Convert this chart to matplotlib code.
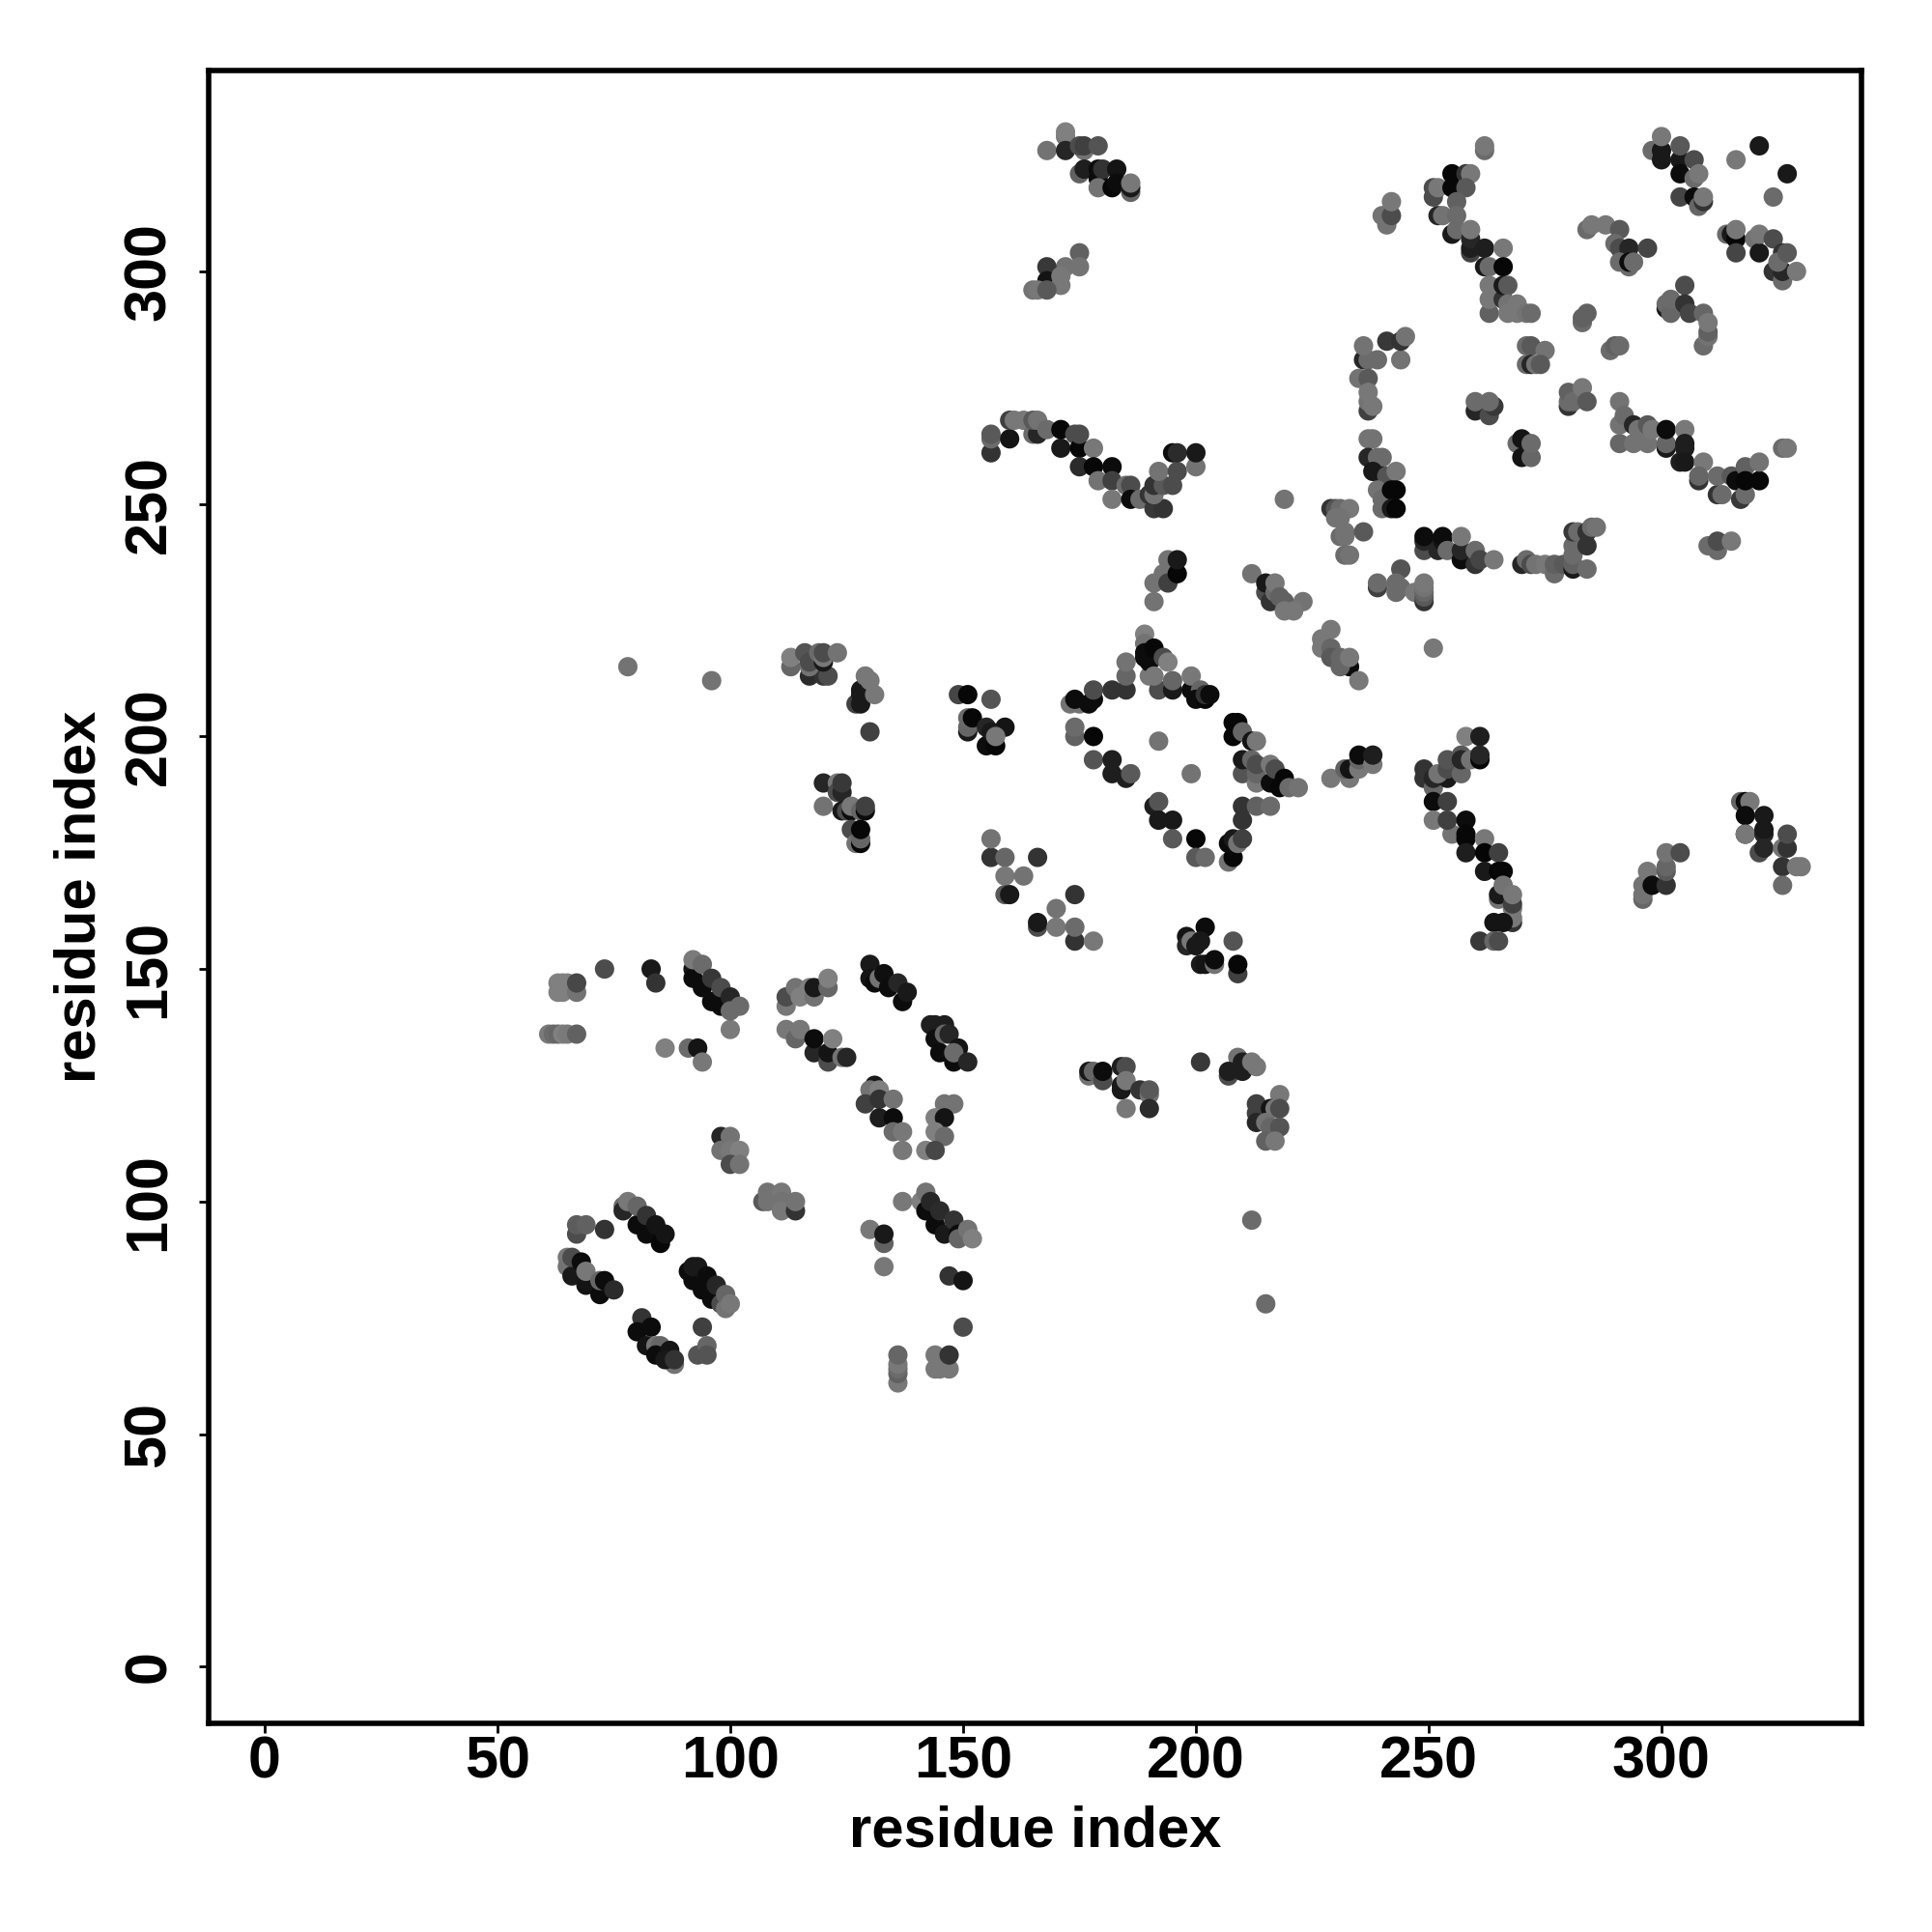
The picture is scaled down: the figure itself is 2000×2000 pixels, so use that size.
import matplotlib
matplotlib.use("Agg")
import matplotlib.pyplot as plt

# contacts: (residue i, residue j, grey level)
low_left = [
    (63,147,.5),(64,147,.5),(65,147,.5),(63,145,.5),(64,145,.5),(67,145,.45),(67,147,.28),
    (61,136,.48),(62,136,.42),(63,136,.4),(64,136,.5),(65,136,.48),(67,136,.38),
    (73,150,.3),(83,150,.1),(84,147,.2),(86,133,.5),(91,133,.42),(93,133,.08),(94,130,.47),(100,137,.48),
    (67,93,.3),(67,95,.36),(69,95,.38),(73,94,.2),
    (65,88,.47),(65,86,.45),(66,84,.1),(66,88,.3),(68,87,.05),(69,82,.08),(69,85,.47),(72,80,.05),
    (72,83,.4),(73,83,.05),(75,81,.17),
    (77,99,.42),(77,98,.15),(78,100,.47),(80,95,.05),(80,99,.4),(82,93,.05),(82,97,.2),(85,91,.03),
    (84,95,.08),(86,93,.08),
    (91,85,.05),(92,83,.05),(92,86,.1),(93,86,.1),(94,81,.05),(95,84,.05),(96,79,.05),(97,82,.15),
    (98,78,.3),(99,77,.45),(99,80,.4),(100,78,.47),
    (81,75,.2),(80,72,.05),(83,73,.05),(82,69,.08),(84,69,.45),(85,69,.4),(84,67,.05),(88,65,.45),
    (87,68,.08),(86,66,.1),(88,66,.2),
    (94,73,.25),(93,67,.33),(95,69,.4),(95,67,.33),
]
low_mid = [
    (92,150,.08),(92,148,.05),(94,146,.05),(96,143,.05),(98,142,.05),(92,152,.48),(94,151,.42),
    (96,148,.22),(98,146,.3),(100,144,.15),(100,141,.42),(102,142,.42),
    (112,142,.47),(112,144,.3),(114,146,.45),(115,144,.5),(117,146,.5),(118,144,.45),(118,146,.1),
    (121,146,.4),(121,148,.5),
    (112,137,.47),(114,135,.4),(115,137,.47),(118,132,.15),(118,135,.05),(121,130,.3),(121,132,.08),
    (122,135,.5),(124,131,.45),(125,131,.15),
    (130,151,.1),(130,148,.08),(131,147,.05),(132,148,.45),(133,149,.06),(134,146,.05),(136,147,.15),
    (137,143,.05),(138,145,.1),
    (143,138,.12),(144,138,.12),(146,138,.12),(144,135,.06),(146,136,.4),(147,136,.15),(145,132,.05),
    (149,133,.08),(148,130,.05),(148,132,.42),(151,130,.15),
    (131,125,.1),(130,124,.45),(132,124,.5),(129,121,.25),(132,122,.2),(135,122,.45),(132,118,.12),
    (135,118,.05),(135,115,.42),(137,115,.47),(137,111,.47),
    (146,121,.45),(148,121,.45),(144,118,.5),(146,118,.08),(144,115,.5),(146,114,.42),(142,111,.5),(144,111,.28),
    (98,114,.15),(100,114,.45),(98,111,.45),(100,111,.47),(102,111,.5),(100,108,.3),(102,108,.45),
    (107,100,.35),(108,102,.45),(108,100,.45),(111,102,.47),(111,100,.45),(111,98,.47),(114,98,.2),(114,100,.45),
    (130,94,.47),(133,91,.38),(133,93,.1),(133,86,.47),
    (137,100,.47),(141,100,.5),(142,102,.45),(142,98,.05),(143,100,.15),(144,95,.05),(145,98,.17),
    (146,93,.1),(148,96,.2),(149,93,.05),(149,92,.4),(151,94,.45),(152,92,.5),
    (147,84,.2),(150,83,.08),(150,73,.3),
    (136,61,.47),(136,63,.38),(136,64,.42),(136,65,.47),(136,67,.4),
    (144,64,.47),(145,64,.47),(147,64,.47),(144,67,.47),(147,67,.2),
]
centre_left = [
    (78,215,.45),(96,212,.45),
    (113,215,.4),(113,217,.5),(117,213,.17),(120,213,.2),(121,213,.3),(116,218,.33),(117,215,.45),
    (117,216,.3),(120,216,.1),(119,218,.42),(120,217,.47),(120,218,.3),(123,218,.45),
    (127,207,.25),(128,207,.1),(128,209,.1),(128,210,.1),(129,213,.47),(130,212,.47),(131,209,.47),(130,201,.25),
    (120,190,.15),(123,190,.47),(123,188,.3),(124,188,.15),(124,190,.22),(120,185,.45),(124,184,.1),
    (125,184,.3),(126,184,.05),(126,185,.47),(128,184,.4),(129,184,.05),(129,185,.25),
    (126,180,.3),(127,177,.45),(128,177,.03),(128,178,.4),(128,180,.03),
    (149,209,.27),(151,209,.03),(156,208,.33),(151,201,.1),(151,202,.4),(151,204,.42),(152,204,.03),
    (155,198,.05),(157,198,.03),(155,202,.15),(159,202,.08),(156,201,.1),(157,200,.47),
    (156,174,.2),(156,178,.45),(159,174,.4),(166,174,.2),(159,170,.47),(163,170,.45),(159,166,.35),(160,166,.1),
    (174,166,.2),(170,163,.45),(166,159,.3),(166,160,.1),(170,159,.47),(174,156,.2),(174,159,.42),(178,156,.47),
]
diamond = [
    (173,207,.45),(175,207,.45),(174,208,.05),(177,207,.05),(178,208,.05),(178,210,.3),(182,210,.2),
    (185,210,.2),(185,213,.4),(185,216,.45),
    (174,200,.38),(174,202,.42),(178,200,.03),(178,195,.33),(182,192,.12),(182,195,.12),(185,191,.12),(186,192,.35),
    (189,222,.5),(189,220,.45),(189,217,.05),(189,218,.05),(190,213,.47),(190,216,.05),(191,219,.03),
    (192,210,.3),(191,213,.47),(195,210,.1),(193,217,.3),(195,212,.4),(194,216,.5),
    (199,210,.05),(199,213,.47),(201,210,.4),(200,208,.05),(202,208,.03),(202,209,.2),(203,209,.05),
    (191,185,.12),(192,186,.33),(192,182,.1),(195,182,.1),(195,178,.35),(200,178,.03),(200,174,.35),(202,174,.42),
    (192,199,.45),(199,192,.45),
    (207,173,.45),(208,174,.03),(207,177,.05),(208,178,.1),(209,177,.45),(210,178,.25),
    (210,182,.2),(210,185,.2),(213,185,.38),(216,185,.42),
    (208,203,.03),(209,203,.03),(208,200,.03),(210,201,.4),(212,199,.08),(213,199,.47),
    (210,192,.33),(210,195,.1),(212,195,.4),(213,190,.47),(213,192,.4),(213,194,.3),
    (216,190,.05),(216,194,.47),(217,193,.3),(218,189,.03),(219,191,.03),(220,189,.42),(222,189,.45),
    (191,229,.45),(191,233,.45),(193,235,.45),(194,233,.25),(194,238,.45),(196,235,.03),(196,238,.1),
    (198,157,.08),(198,155,.15),(199,156,.47),(200,155,.1),(202,159,.05),(201,156,.1),(208,156,.33),
    (201,151,.1),(202,151,.08),(204,151,.45),(204,152,.05),(209,149,.25),(209,151,.03),
    (177,127,.45),(177,128,.1),(178,128,.4),(180,126,.3),(180,128,.05),(184,124,.1),(184,125,.1),(184,129,.12),
    (185,129,.3),(185,126,.47),(188,124,.2),(190,123,.45),(190,124,.35),(185,120,.47),(190,120,.17),
    (201,130,.22),(209,131,.45),(207,127,.3),(207,128,.12),(210,130,.12),(210,128,.12),(212,130,.47),(213,129,.47),
    (218,123,.47),(213,121,.25),(213,119,.25),(213,117,.15),(216,120,.08),(217,120,.47),(218,120,.3),
    (215,117,.45),(216,116,.4),(218,116,.33),(215,113,.38),(217,113,.47),
    (212,96,.42),(215,78,.42),
]
band_mid = [
    (229,223,.47),(227,221,.47),(227,219,.47),(229,219,.4),(229,217,.35),(231,217,.4),(233,215,.05),
    (231,215,.4),(233,217,.47),(235,212,.47),(251,219,.47),
    (229,191,.47),(233,191,.47),(232,193,.38),(233,193,.08),(235,193,.47),(235,195,.4),(235,196,.05),
    (238,194,.47),(238,196,.12),
    (212,235,.45),(215,231,.3),(215,233,.1),(216,229,.2),(217,231,.42),(217,233,.47),(218,230,.38),
    (219,229,.38),(223,229,.45),(219,227,.47),(221,227,.47),
    (258,200,.5),(261,200,.12),(249,191,.2),(249,193,.2),(251,189,.4),(251,191,.15),(254,191,.1),(252,192,.45),
    (254,193,.3),(254,195,.33),(257,196,.35),(257,192,.4),(257,195,.15),(259,195,.45),(261,195,.03),(261,196,.15),
    (251,186,.05),(254,186,.25),(251,182,.47),(255,179,.45),(254,182,.25),(258,182,.05),(258,178,.03),
    (258,179,.03),(262,178,.47),(258,175,.12),(262,175,.02),(265,175,.25),(262,171,.1),(265,171,.02),(266,171,.03),
    (265,165,.45),(265,166,.1),(266,168,.45),(268,160,.2),(268,161,.47),(268,163,.47),(268,164,.25),(268,166,.47),
    (264,160,.08),(266,160,.08),(261,156,.22),(264,156,.4),(265,156,.3),
    (296,165,.4),(296,166,.45),(296,168,.45),(297,171,.47),(298,168,.05),(301,168,.2),(301,171,.35),(301,172,.4),
    (301,175,.45),(304,175,.3),
    (317,186,.4),(318,186,.05),(319,186,.47),(318,179,.05),(318,183,.05),(318,179,.47),(322,183,.1),(322,179,.15),
    (322,180,.1),(321,175,.3),(322,176,.15),(326,176,.45),(327,176,.2),(327,179,.3),(326,172,.2),
    (329,172,.47),(330,172,.47),(326,168,.42),
]
upper_left = [
    (172,329,.47),(172,330,.5),(168,326,.45),(172,326,.15),(176,326,.45),(175,327,.3),(176,327,.25),(179,327,.33),
    (175,321,.38),(176,322,.12),(179,320,.05),(179,322,.05),(180,322,.2),(183,322,.08),(179,318,.45),
    (182,318,.03),(183,319,.05),(186,317,.4),(186,318,.1),(186,319,.47),
    (175,304,.38),(175,301,.45),(172,301,.45),(168,301,.22),(168,298,.08),(171,297,.47),(171,299,.47),
    (165,296,.45),(166,296,.47),(168,296,.35),
    (156,261,.2),(156,264,.42),(156,265,.35),(160,264,.08),(160,268,.25),(161,268,.47),(163,268,.47),
    (165,265,.42),(166,265,.15),(165,268,.35),(166,268,.45),(168,266,.42),(171,262,.1),(171,266,.03),
    (174,265,.3),(175,262,.03),(175,265,.3),(178,262,.47),(175,258,.17),(178,258,.03),(179,255,.45),
    (182,258,.05),(182,255,.25),(182,251,.47),(185,254,.42),(186,254,.3),(186,251,.05),
    (188,251,.42),(191,249,.22),(193,249,.2),(190,252,.2),(191,252,.45),(191,254,.2),(193,254,.35),(195,254,.3),
    (192,257,.45),(196,257,.3),(195,261,.05),(196,261,.17),(200,258,.45),(200,261,.1),
    (240,312,.45),(241,310,.45),(242,312,.3),(242,315,.47),
    (236,281,.15),(237,281,.42),(239,281,.42),(236,284,.45),(241,285,.22),(244,281,.45),(244,285,.2),(245,286,.45),
    (235,277,.45),(237,277,.35),(237,270,.25),(237,272,.45),(237,274,.47),(238,271,.47),
    (237,264,.45),(238,264,.45),(237,260,.15),(239,260,.42),(240,260,.42),(238,257,.1),(240,256,.1),(241,256,.33),
    (243,257,.47),(239,253,.45),(240,251,.42),(242,253,.03),(243,253,.03),(240,249,.42),(242,249,.1),(243,249,.03),
    (219,251,.45),
    (229,249,.2),(230,249,.33),(231,249,.42),(233,249,.47),(230,247,.45),(231,247,.45),(231,243,.42),
    (232,243,.45),(232,244,.45),(236,244,.35),(232,239,.42),(233,239,.45),
]
upper_right = [
    (262,326,.42),(262,327,.47),
    (251,316,.3),(251,318,.3),(252,318,.47),(255,318,.03),(255,321,.03),(258,321,.2),(259,321,.47),(258,318,.35),
    (252,312,.15),(253,312,.45),(256,315,.38),(256,312,.42),(255,308,.1),(256,309,.42),(259,304,.25),(259,305,.12),
    (259,307,.15),(259,309,.47),(262,305,.12),(266,305,.47),(262,301,.1),(263,301,.42),(266,301,.03),
    (263,291,.38),(263,294,.47),(263,297,.47),(266,294,.2),(266,297,.1),(267,297,.35),(267,293,.45),(269,293,.47),
    (267,291,.47),(269,291,.47),(271,291,.45),(272,291,.42),
    (284,309,.42),(285,310,.47),(288,310,.47),(291,309,.35),(290,306,.42),(291,305,.3),(293,305,.15),(297,305,.27),
    (291,302,.42),(293,301,.42),(293,302,.05),(294,302,.42),
    (298,326,.42),(300,324,.1),(300,326,.1),(300,329,.47),(304,324,.1),(304,327,.35),(304,321,.05),(307,324,.3),
    (307,320,.42),(308,321,.47),(304,316,.27),(307,316,.05),(308,314,.4),(309,315,.2),(309,316,.47),
    (316,324,.47),(321,327,.1),(327,321,.1),(324,316,.42),
    (314,308,.42),(315,308,.1),(316,307,.03),(316,309,.47),(316,304,.27),(320,307,.45),(321,304,.1),(321,308,.47),
    (324,307,.3),(324,300,.2),(326,298,.42),(326,300,.15),(326,304,.2),(325,302,.42),(327,304,.35),(329,300,.47),
    (305,297,.3),(301,292,.1),(301,293,.42),(302,291,.4),(302,294,.42),(305,293,.2),(306,291,.27),
    (309,284,.42),(309,291,.4),(310,286,.45),(310,287,.38),(310,289,.47),
    (283,289,.42),(283,290,.38),(284,291,.38),(289,283,.42),(290,284,.38),(291,284,.42),
    (271,284,.42),(272,284,.35),(275,283,.45),(271,280,.42),(272,280,.15),(273,280,.45),(274,280,.35),
    (280,271,.2),(280,272,.42),(280,274,.38),(281,272,.42),(283,275,.47),(284,272,.35),
    (260,270,.15),(260,272,.42),(263,269,.3),(264,271,.22),(263,272,.42),
    (269,263,.42),(270,260,.08),(270,264,.08),(272,260,.4),(272,263,.42),
    (291,263,.4),(291,267,.45),(291,272,.45),(292,269,.42),(294,263,.45),(294,267,.15),(295,266,.45),(297,263,.45),
    (297,267,.35),(298,266,.47),(301,262,.1),(301,263,.4),(301,266,.05),(305,266,.47),(305,262,.12),(305,263,.12),
    (304,259,.12),(305,259,.1),(309,259,.47),(308,255,.2),(308,256,.4),(312,252,.2),(313,252,.42),(312,256,.42),
    (315,256,.35),(316,255,.05),(317,251,.22),(318,252,.42),(318,258,.38),(318,255,.03),(321,255,.03),(321,259,.45),
    (310,241,.42),(312,240,.42),(312,242,.3),(315,242,.47),(326,262,.42),(327,262,.47),
    (249,240,.3),(249,242,.15),(249,243,.05),(252,240,.15),(253,242,.08),(253,243,.05),(254,240,.42),
    (257,238,.05),(257,240,.15),(257,243,.47),(260,237,.2),(260,240,.42),(261,238,.27),(264,238,.47),
    (270,237,.15),(271,238,.42),(272,237,.3),(273,237,.45),(275,237,.47),(277,235,.42),(277,237,.38),(279,237,.35),
    (281,236,.1),(281,237,.38),(281,239,.42),(281,241,.42),(284,236,.42),(281,244,.22),(282,244,.42),
    (284,241,.2),(284,244,.2),(285,245,.42),(286,245,.45),
    (244,236,.33),(239,232,.25),(239,233,.42),(243,231,.42),(243,233,.42),(244,232,.42),(247,231,.47),
    (249,229,.2),(249,230,.35),(249,231,.4),(249,232,.45),(249,233,.47),
]

tick_values = [0, 50, 100, 150, 200, 250, 300]
axis_label = "residue index"

plt.rcParams['font.family'] = ['Liberation Sans', 'DejaVu Sans']

fig = plt.figure(figsize=(10, 10), dpi=200)
ax = fig.add_axes([216/2000, 1-1784/2000, (1927-216)/2000, (1784-73)/2000])

contacts = low_left + low_mid + centre_left + diamond + band_mid + upper_left + upper_right
ax.scatter([c[0] for c in contacts], [c[1] for c in contacts], c=[c[2] for c in contacts],
           cmap='gray', vmin=0, vmax=1, s=52, linewidths=0, clip_on=True)

ax.set_xlim(-12.03, 342.95)
ax.set_ylim(-12.2, 343.2)
ax.set_xticks(tick_values)
ax.set_yticks(tick_values)
ax.set_xticklabels(tick_values, fontsize=22, fontweight='bold')
ax.set_yticklabels(tick_values, fontsize=22, fontweight='bold', rotation=90, va='center')
ax.tick_params(length=3.5, width=1)
ax.tick_params(axis='x', pad=1)
ax.tick_params(axis='y', pad=8)
for spine in ax.spines.values():
    spine.set_linewidth(2)

ax.set_xlabel(axis_label, fontsize=21.5, fontweight='bold', labelpad=5.3)
ax.set_ylabel(axis_label, fontsize=21.5, fontweight='bold', labelpad=5.8)

fig.savefig("out.png", dpi=200)
